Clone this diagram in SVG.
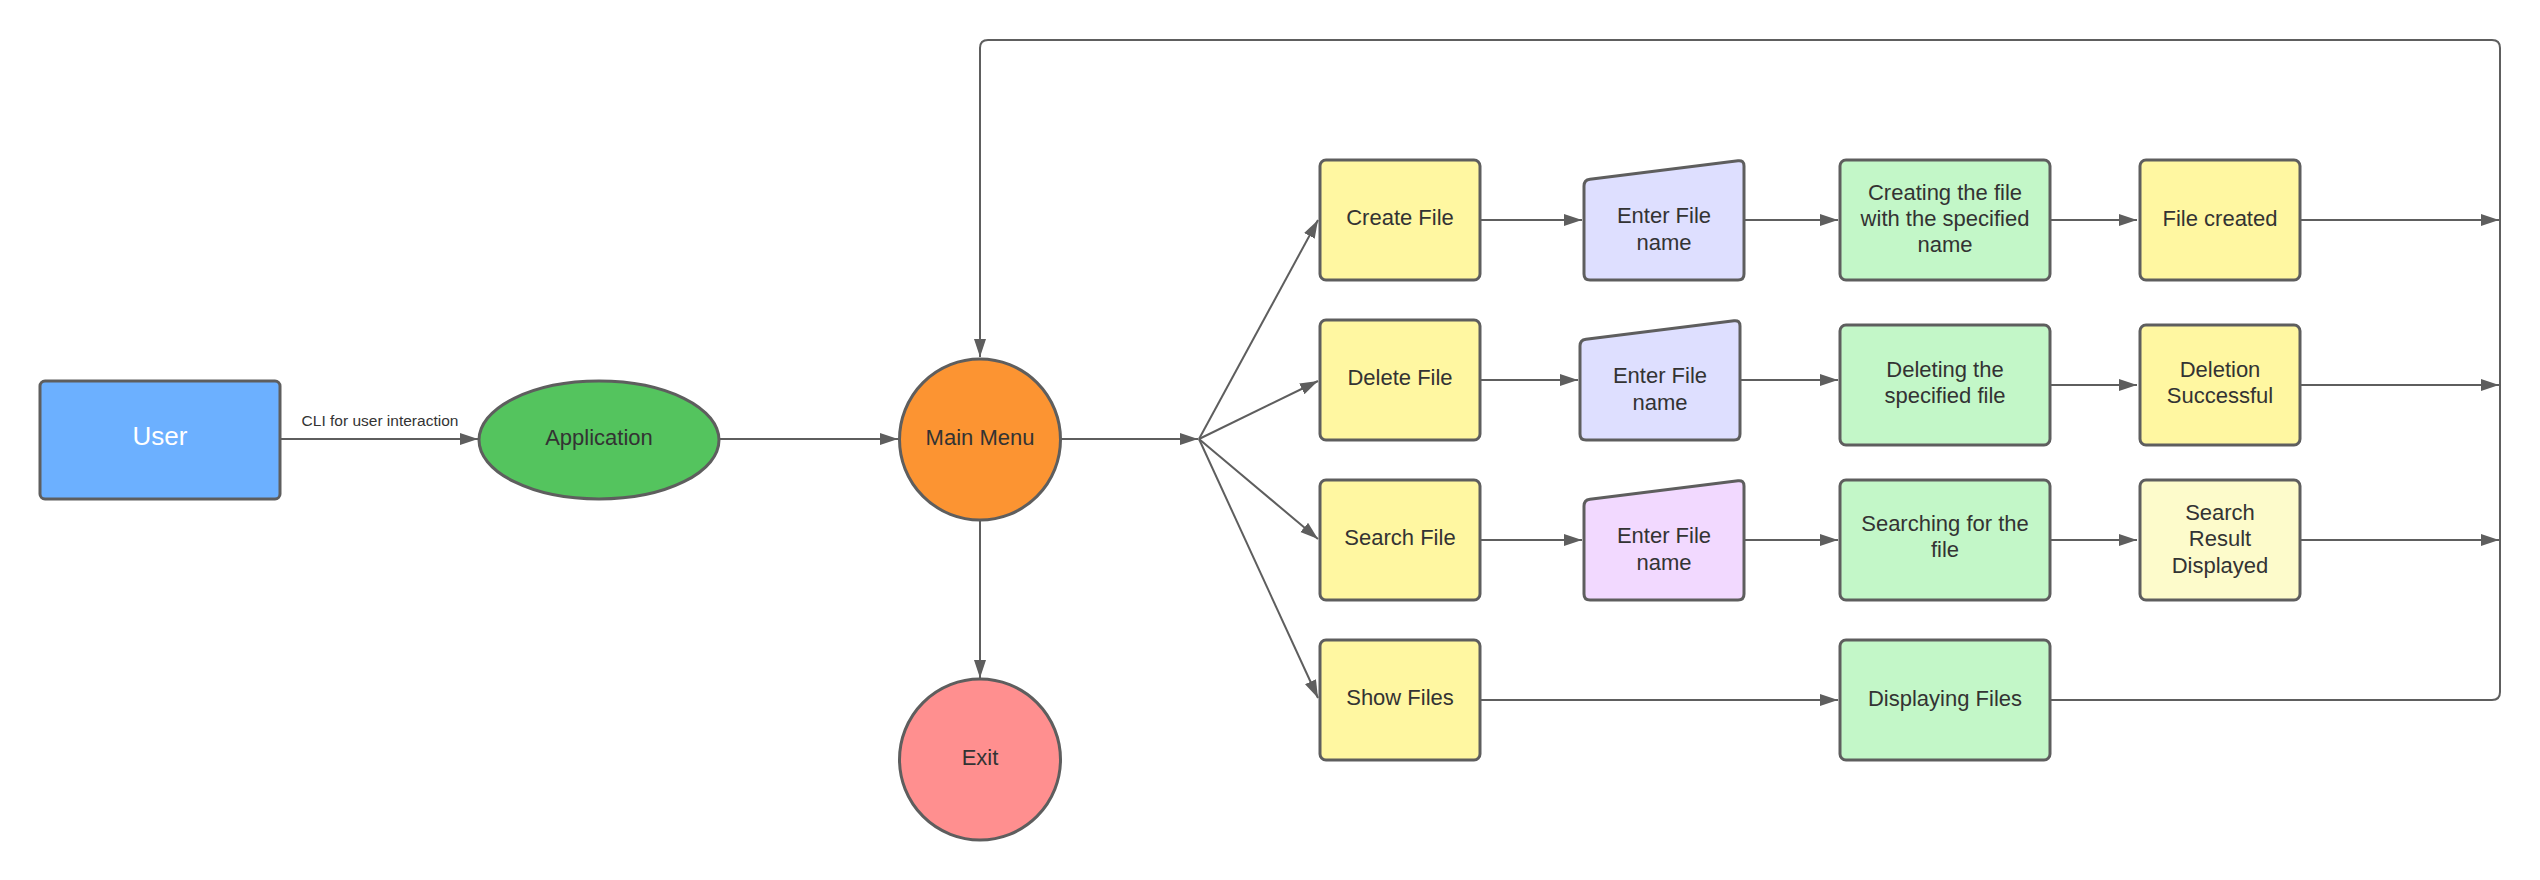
<svg xmlns="http://www.w3.org/2000/svg" width="2540" height="880" viewBox="0 0 2540 880">
<style>
.n{stroke:#5e5e5e;stroke-width:3}
.t{font-family:"Liberation Sans",Arial,sans-serif;font-size:22px;fill:#333333;text-anchor:middle}
.c{fill:none;stroke:#5e5e5e;stroke-width:2}
.y{fill:#fff7a1}.g{fill:#c3f7c8}.l{fill:#dedfff}
</style>
<defs>
<marker id="a" markerUnits="userSpaceOnUse" markerWidth="19" markerHeight="13" refX="18" refY="6" orient="auto"><path d="M0,0 L18,6 L0,12 z" fill="#5e5e5e"/></marker>
</defs>
<rect width="2540" height="880" fill="#ffffff"/>
<g id="connectors">
<path class="c" d="M280,439 L478,439" marker-end="url(#a)"/>
<text x="380" y="426" style="font-family:'Liberation Sans',Arial,sans-serif;font-size:15.5px;fill:#333;text-anchor:middle">CLI for user interaction</text>
<path class="c" d="M719,439 L898,439" marker-end="url(#a)"/>
<path class="c" d="M1060,439 L1198,439" marker-end="url(#a)"/>
<path class="c" d="M980,520 L980,678" marker-end="url(#a)"/>
<path class="c" d="M1199,439 L1318,220" marker-end="url(#a)"/>
<path class="c" d="M1199,439 L1318,381" marker-end="url(#a)"/>
<path class="c" d="M1199,439 L1318,539" marker-end="url(#a)"/>
<path class="c" d="M1199,439 L1318,698" marker-end="url(#a)"/>
<path class="c" d="M1481,220 L1582,220" marker-end="url(#a)"/>
<path class="c" d="M1481,380 L1578,380" marker-end="url(#a)"/>
<path class="c" d="M1481,540 L1582,540" marker-end="url(#a)"/>
<path class="c" d="M1481,700 L1838,700" marker-end="url(#a)"/>
<path class="c" d="M1745,220 L1838,220" marker-end="url(#a)"/>
<path class="c" d="M1741,380 L1838,380" marker-end="url(#a)"/>
<path class="c" d="M1745,540 L1838,540" marker-end="url(#a)"/>
<path class="c" d="M2051,220 L2137,220" marker-end="url(#a)"/>
<path class="c" d="M2051,385 L2137,385" marker-end="url(#a)"/>
<path class="c" d="M2051,540 L2137,540" marker-end="url(#a)"/>
<path class="c" d="M2301,220 L2499,220" marker-end="url(#a)"/>
<path class="c" d="M2301,385 L2499,385" marker-end="url(#a)"/>
<path class="c" d="M2301,540 L2499,540" marker-end="url(#a)"/>
<path class="c" d="M2051,700 L2492,700 Q2500,700 2500,692 L2500,48 Q2500,40 2492,40 L988,40 Q980,40 980,48 L980,357" marker-end="url(#a)"/>
</g>
<g id="user"><rect class="n" x="40" y="381" width="240" height="118" rx="5" fill="#6cb0ff"/><text class="t" x="160" y="445" style="fill:#ffffff;font-size:26px">User</text></g>
<g id="application"><ellipse class="n" cx="599" cy="440" rx="120" ry="59" fill="#54c45e"/><text class="t" x="599" y="445">Application</text></g>
<g id="main-menu"><circle class="n" cx="980" cy="439.5" r="80.5" fill="#fc9432"/><text class="t" x="980" y="445">Main Menu</text></g>
<g id="exit"><circle class="n" cx="980" cy="759.5" r="80.5" fill="#ff8f8f"/><text class="t" x="980" y="765">Exit</text></g>
<g id="create-file"><rect class="n y" x="1320" y="160" width="160" height="120" rx="6"/><text class="t" x="1400" y="225">Create File</text></g>
<g id="delete-file"><rect class="n y" x="1320" y="320" width="160" height="120" rx="6"/><text class="t" x="1400" y="385">Delete File</text></g>
<g id="search-file"><rect class="n y" x="1320" y="480" width="160" height="120" rx="6"/><text class="t" x="1400" y="545">Search File</text></g>
<g id="show-files"><rect class="n y" x="1320" y="640" width="160" height="120" rx="6"/><text class="t" x="1400" y="705">Show Files</text></g>
<g id="enter-create"><path class="n l" d="M1584,186 Q1584,180 1590,179.25 L1738,160.75 Q1744,160 1744,166 L1744,274 Q1744,280 1738,280 L1590,280 Q1584,280 1584,274 Z"/><text class="t" x="1664" y="223">Enter File</text><text class="t" x="1664" y="250">name</text></g>
<g id="enter-delete"><path class="n l" d="M1580,346 Q1580,340 1586,339.25 L1734,320.75 Q1740,320 1740,326 L1740,434 Q1740,440 1734,440 L1586,440 Q1580,440 1580,434 Z"/><text class="t" x="1660" y="383">Enter File</text><text class="t" x="1660" y="410">name</text></g>
<g id="enter-search"><path class="n" fill="#f2d9ff" d="M1584,506 Q1584,500 1590,499.25 L1738,480.75 Q1744,480 1744,486 L1744,594 Q1744,600 1738,600 L1590,600 Q1584,600 1584,594 Z"/><text class="t" x="1664" y="543">Enter File</text><text class="t" x="1664" y="570">name</text></g>
<g id="creating"><rect class="n g" x="1840" y="160" width="210" height="120" rx="6"/><text class="t" x="1945" y="200">Creating the file</text><text class="t" x="1945" y="226">with the specified</text><text class="t" x="1945" y="252">name</text></g>
<g id="deleting"><rect class="n g" x="1840" y="325" width="210" height="120" rx="6"/><text class="t" x="1945" y="377">Deleting the</text><text class="t" x="1945" y="403">specified file</text></g>
<g id="searching"><rect class="n g" x="1840" y="480" width="210" height="120" rx="6"/><text class="t" x="1945" y="531">Searching for the</text><text class="t" x="1945" y="557">file</text></g>
<g id="displaying"><rect class="n g" x="1840" y="640" width="210" height="120" rx="6"/><text class="t" x="1945" y="706">Displaying Files</text></g>
<g id="file-created"><rect class="n y" x="2140" y="160" width="160" height="120" rx="6"/><text class="t" x="2220" y="226">File created</text></g>
<g id="deletion-successful"><rect class="n y" x="2140" y="325" width="160" height="120" rx="6"/><text class="t" x="2220" y="377">Deletion</text><text class="t" x="2220" y="403">Successful</text></g>
<g id="search-result"><rect class="n" fill="#fdfbcb" x="2140" y="480" width="160" height="120" rx="6"/><text class="t" x="2220" y="520">Search</text><text class="t" x="2220" y="546">Result</text><text class="t" x="2220" y="573">Displayed</text></g>
</svg>
